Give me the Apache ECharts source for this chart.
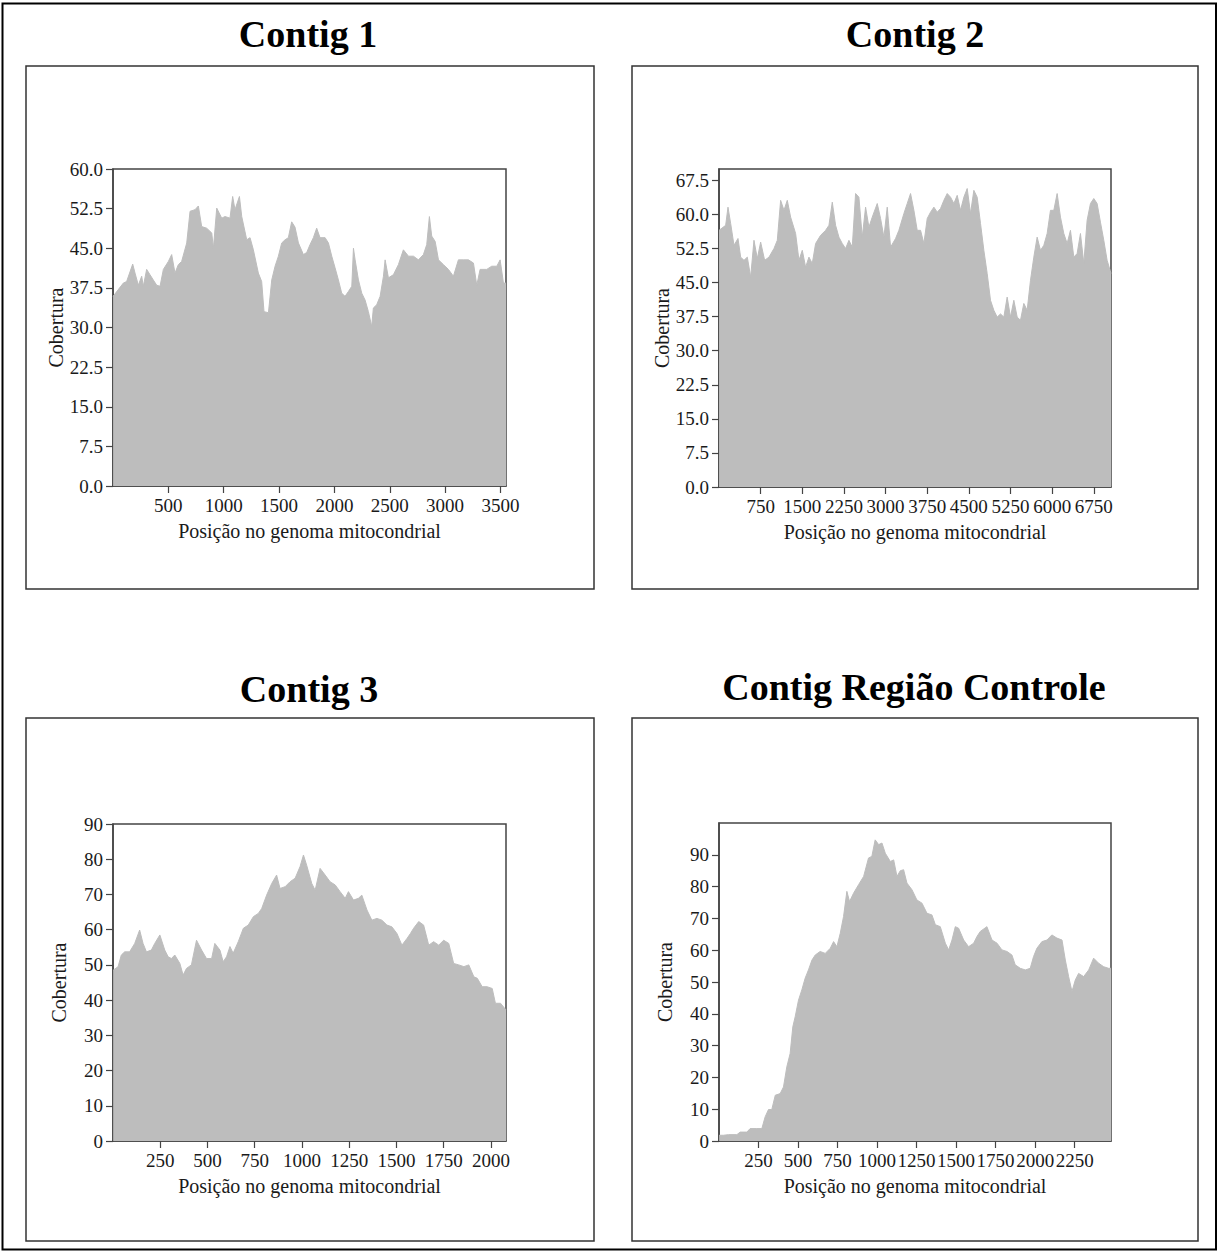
<!DOCTYPE html>
<html><head><meta charset="utf-8">
<script src="https://cdn.jsdelivr.net/npm/echarts@6/dist/echarts.min.js"></script>
<style>html,body{margin:0;padding:0;background:#fff}#c{width:1219px;height:1253px}</style>
</head><body><div id="c"></div>
<script>
const titles = ['Contig 1', 'Contig 2', 'Contig 3', 'Contig Região Controle'];
const yAxisName = 'Cobertura';
const xAxisName = 'Posição no genoma mitocondrial';

// Contig 1
const pos1 = [1,93,123,178,199,229,259,274,304,334,364,395,425,455,500,530,560,590,620,666,696,741,771,801,846,892,907,937,982,1012,1057,1081,1102,1142,1163,1208,1238,1268,1313,1343,1364,1404,1434,1464,1494,1524,1554,1584,1614,1644,1675,1720,1750,1780,1810,1840,1870,1916,1946,1976,2006,2036,2066,2096,2126,2157,2172,2187,2217,2247,2277,2307,2337,2352,2382,2413,2443,2458,2488,2533,2578,2623,2669,2714,2759,2804,2834,2858,2879,2910,2940,2985,3030,3075,3120,3166,3211,3256,3286,3316,3376,3421,3467,3497,3527,3550];
const cov1 = [35.9,38.4,38.7,42,40.3,38,39.7,37.8,41,40,39,38,37.8,41,42.5,43.8,40.3,41.9,42.5,46,52,52.3,53,49.1,48.8,47.9,45,52.6,50.7,51,50.7,54.8,52.3,54.8,51,46.6,47,44.7,40.3,38.7,33,32.8,39,41.6,43.5,46,46.6,47,50,49,46,43.8,44.2,45.7,47,48.8,47,47,46,43.5,41.3,39,36.5,35.9,36.8,37.8,45,42.8,39,36.5,35.2,33,30.2,33.7,34.3,35.9,39.7,42.8,39.4,40,41.9,44.7,43.5,43.5,42.8,43.8,45.7,51,47.3,46.3,42.8,41.9,41,39.7,42.8,42.8,42.8,42.2,38,41,41,41.6,41.6,42.8,38.4,38.4];

// Contig 2
const pos2 = [1,120,162,210,270,342,390,450,510,570,630,690,750,822,900,990,1050,1110,1170,1230,1290,1380,1440,1500,1560,1620,1680,1740,1830,1920,1980,2040,2100,2160,2220,2280,2340,2400,2460,2520,2580,2640,2700,2760,2850,2910,2970,3030,3090,3180,3240,3330,3390,3450,3510,3570,3630,3690,3750,3810,3870,3930,3990,4050,4110,4170,4230,4290,4350,4410,4470,4530,4590,4650,4710,4770,4830,4890,4950,5010,5070,5130,5190,5250,5310,5370,5430,5490,5550,5610,5670,5730,5790,5850,5910,5970,6030,6090,6150,6210,6270,6330,6390,6450,6510,6570,6630,6690,6750,6810,6870,6930,6990,7060];
const cov2 = [56.5,57.6,61.6,58,53.2,54.7,50.6,49.9,50.6,46.2,54.3,50.3,53.9,49.9,50.6,52.5,54.3,63.1,60.9,63.1,59.4,55.8,49.9,52.1,48.4,50.6,49.2,53.6,55.4,56.5,57.6,62.7,57.6,55,53.6,52.5,54.3,52.8,64.6,63.8,55,61.6,57.2,59.4,62.4,59.1,55,61.6,52.8,54.7,56.5,60.2,62.4,64.6,60.9,56.5,56.5,53.6,59.1,60.5,61.6,60.5,61.3,63.1,64.6,63.8,62.4,64.2,60.9,63.8,65.7,60.2,65.3,63.8,58,52.1,47,41.1,38.9,37.4,38.1,37.4,41.8,37.4,41.1,37.4,36.7,40.4,38.9,45.5,50.6,55,52.1,53.2,55.8,60.9,60.9,64.6,59.4,55.8,53.6,56.5,50.6,51.4,55.8,49.2,58.7,62.4,63.5,62.4,58.3,54.3,49.9,47];

// Contig 3
const pos3 = [1,27,44,62,88,115,141,159,177,203,221,248,274,292,309,327,354,371,389,415,442,469,495,522,539,566,583,601,619,636,663,690,716,743,769,787,813,840,866,884,911,937,964,990,1008,1025,1052,1070,1096,1123,1149,1176,1202,1229,1246,1273,1299,1317,1344,1370,1397,1423,1450,1476,1503,1529,1556,1574,1591,1618,1644,1671,1697,1724,1750,1777,1803,1830,1857,1883,1910,1928,1954,1980,2007,2024,2051,2080];
const cov3 = [48.5,49.5,52.8,53.7,53.7,56.1,59.9,56.1,53.7,54.2,56.1,58.5,54.2,52.3,51.8,52.8,50.4,47.1,49,50,57,54.2,51.8,51.8,56.1,54.2,50.9,52.3,55.2,53.3,56.6,60.4,61.3,63.7,64.6,66,69.8,73.1,75.5,71.7,72.2,73.6,74.6,77.9,81.2,78.3,73.1,71.2,77.4,75.5,73.6,72.7,70.8,68.9,70.8,68.4,68.9,69.8,65.6,62.7,63.2,62.7,61.3,60.8,58.9,55.6,57.5,58.9,60.4,62.3,61.3,55.6,56.6,55.6,57,56.1,50.4,50,49.5,50,46.6,46.2,43.8,43.8,43.3,39.1,39.1,37.2];

// Contig Região Controle
const pos4 = [1,28,60,113,134,176,197,239,271,292,313,334,356,387,408,429,450,467,482,503,524,545,566,588,609,640,672,704,725,746,767,788,809,826,851,883,915,946,967,988,1010,1031,1052,1084,1105,1126,1147,1168,1189,1221,1252,1284,1316,1347,1369,1400,1432,1453,1474,1495,1516,1548,1579,1611,1632,1653,1695,1727,1759,1790,1822,1853,1874,1906,1938,1969,1990,2011,2043,2075,2106,2138,2170,2191,2212,2233,2254,2275,2307,2339,2370,2402,2434,2465,2480];
const cov4 = [1.8,1.8,2,2,2.8,2.8,3.9,3.9,3.9,7.6,9.9,9.9,14.4,14.9,17,23.3,27.5,35.9,39.1,44.3,47.5,51.2,53.8,56.9,58.5,59.6,59,60.6,62.7,61.1,65.3,70.6,78.5,75.3,77.9,80.6,83.2,89,89.5,94.7,93.2,93.7,90.5,87.9,88.4,83.2,85,85.3,81.1,79,75.8,74.8,71.6,71.1,68,67.4,62.2,60.1,63.2,67.4,66.9,63.2,61.1,62.2,64.3,65.9,67.4,63.2,62.2,60.1,59.6,58.5,55.4,54.3,53.8,54.3,58,60.6,62.7,63.2,64.8,63.8,63.2,56.9,51.7,47,50.6,52.7,51.7,53.8,57.5,55.9,54.8,54.3,54.3];

// tick values
const xTicks1 = [500,1000,1500,2000,2500,3000,3500];
const yTicks1 = [0,7.5,15,22.5,30,37.5,45,52.5,60];
const xTicks2 = [750,1500,2250,3000,3750,4500,5250,6000,6750];
const yTicks2 = [0,7.5,15,22.5,30,37.5,45,52.5,60,67.5];
const xTicks3 = [250,500,750,1000,1250,1500,1750,2000];
const yTicks3 = [0,10,20,30,40,50,60,70,80,90];
const xTicks4 = [250,500,750,1000,1250,1500,1750,2000,2250];
const yTicks4 = [0,10,20,30,40,50,60,70,80,90];

const SERIF = '"Liberation Serif", "Times New Roman", serif';
const FILL = '#bdbdbd';
const AX = '#444';
const TXT = '#1a1a1a';

const panels = [
  {pos: pos1, cov: cov1, xt: xTicks1, yt: yTicks1, xMax: 3550, yMax: 60, dec: 1, grid: {left: 113, top: 169, width: 393, height: 317}},
  {pos: pos2, cov: cov2, xt: xTicks2, yt: yTicks2, xMax: 7060, yMax: 70, dec: 1, grid: {left: 719, top: 169, width: 392, height: 318}},
  {pos: pos3, cov: cov3, xt: xTicks3, yt: yTicks3, xMax: 2080, yMax: 90, dec: 0, grid: {left: 113, top: 824, width: 393, height: 317}},
  {pos: pos4, cov: cov4, xt: xTicks4, yt: yTicks4, xMax: 2480, yMax: 100, dec: 0, grid: {left: 719, top: 823, width: 392, height: 318}}
];

const grids = [], xAxes = [], yAxes = [], series = [];
panels.forEach((p, i) => {
  grids.push(Object.assign({show: true, borderColor: AX, borderWidth: 1.5, backgroundColor: 'transparent'}, p.grid));
  xAxes.push({
    gridIndex: i, type: 'value', min: 0, max: p.xMax,
    name: xAxisName, nameLocation: 'middle', nameGap: 35,
    nameTextStyle: {fontFamily: SERIF, fontSize: 20, color: TXT},
    axisLine: {show: true, onZero: false, lineStyle: {color: AX, width: 1.5}},
    axisTick: {show: true, length: 7, customValues: p.xt, lineStyle: {color: AX, width: 1.2}},
    axisLabel: {customValues: p.xt, margin: 10, fontFamily: SERIF, fontSize: 19, color: TXT,
      showMinLabel: true, showMaxLabel: true, hideOverlap: false,
      formatter: v => String(v)},
    splitLine: {show: false}
  });
  yAxes.push({
    gridIndex: i, type: 'value', min: 0, max: p.yMax,
    name: yAxisName, nameLocation: 'middle', nameGap: 44,
    nameTextStyle: {fontFamily: SERIF, fontSize: 20, color: TXT},
    axisLine: {show: true, onZero: false, lineStyle: {color: AX, width: 1.5}},
    axisTick: {show: true, length: 7, customValues: p.yt, lineStyle: {color: AX, width: 1.2}},
    axisLabel: {customValues: p.yt, margin: 10, fontFamily: SERIF, fontSize: 19, color: TXT,
      showMinLabel: true, showMaxLabel: true,
      formatter: v => Number(v).toFixed(p.dec)},
    splitLine: {show: false}
  });
  series.push({
    type: 'line', xAxisIndex: i, yAxisIndex: i,
    showSymbol: false, silent: true,
    lineStyle: {color: FILL, width: 1},
    areaStyle: {color: FILL, opacity: 1},
    data: p.pos.map((x, k) => [x, p.cov[k]])
  });
});

const boxStyle = {fill: 'none', stroke: '#333', lineWidth: 1.5};
const tStyle = t => ({text: t, fontFamily: SERIF, fontWeight: 'bold', fontSize: 38, fill: '#000', align: 'center', verticalAlign: 'middle'});
const graphic = [
  {type: 'rect', shape: {x: 2.5, y: 3.5, width: 1213.5, height: 1246}, style: {fill: 'none', stroke: '#000', lineWidth: 2}},
  {type: 'rect', shape: {x: 26, y: 66, width: 568, height: 523}, style: boxStyle},
  {type: 'rect', shape: {x: 632, y: 66, width: 566, height: 523}, style: boxStyle},
  {type: 'rect', shape: {x: 26, y: 718, width: 568, height: 523}, style: boxStyle},
  {type: 'rect', shape: {x: 632, y: 718, width: 566, height: 523}, style: boxStyle},
  {type: 'text', x: 308, y: 34, style: tStyle(titles[0])},
  {type: 'text', x: 915, y: 34, style: tStyle(titles[1])},
  {type: 'text', x: 309, y: 689, style: tStyle(titles[2])},
  {type: 'text', x: 914, y: 687, style: tStyle(titles[3])}
];

const chart = echarts.init(document.getElementById('c'), null, {renderer: 'svg', width: 1219, height: 1253});
chart.setOption({
  animation: false,
  backgroundColor: '#fff',
  grid: grids, xAxis: xAxes, yAxis: yAxes, series: series, graphic: graphic
});
</script>
</body></html>
